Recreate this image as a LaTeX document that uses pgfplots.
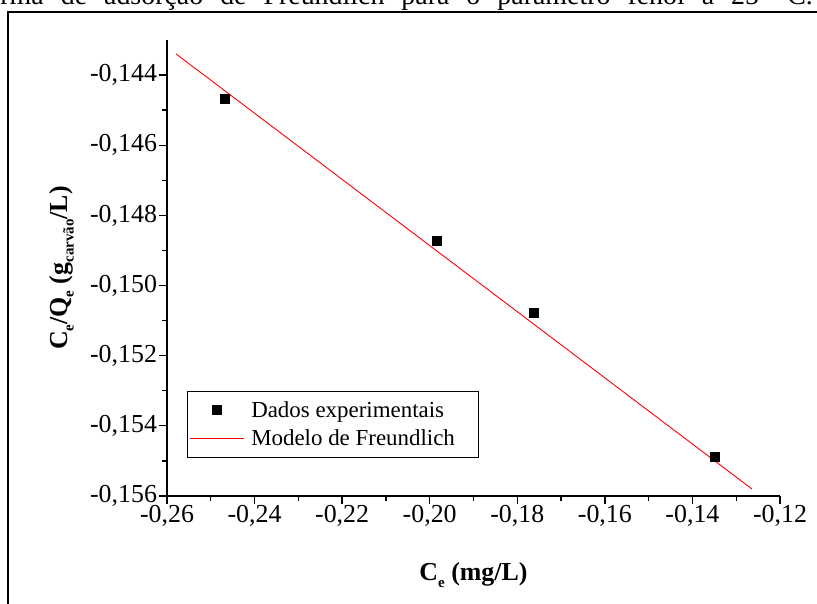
\documentclass[border=0pt]{standalone}
\usepackage{fontspec}
\setmainfont{Liberation Serif}
\usepackage{pgfplots}
\pgfplotsset{compat=1.18}
\newcommand\sub[1]{\raisebox{-0.55ex}{\fontsize{15}{15}\selectfont #1}}
\pgfplotsset{
  markleg/.style={legend image code/.code={\draw[mark repeat=2,mark phase=2,##1] plot coordinates {(0bp,0bp) (27bp,0bp) (54bp,0bp)};}},
  lineleg/.style={legend image code/.code={\draw[##1] (0bp,0bp) -- (54bp,0bp);}},
}
\begin{document}
\begin{tikzpicture}
\path[use as bounding box] (0bp,0bp) rectangle (817bp,604bp);
\node[anchor=base east, inner sep=0pt, font=\fontsize{28}{30}\selectfont] at (813bp,599bp)
  {\spaceskip=17bp plus 2bp Figura 4.5 -- Isoterma de adsorção de Freundlich para o parâmetro fenol a 25 °C.};
\draw[line width=1.4bp] (8bp,0bp) -- (8bp,592bp) -- (817bp,592bp);
\begin{axis}[
  at={(167bp,108bp)}, anchor=south west,
  scale only axis, width=613bp, height=456bp,
  xmin=-0.26, xmax=-0.12, ymin=-0.156, ymax=-0.143,
  axis lines*=left,
  axis line style={line width=1.3bp},
  tick align=outside,
  major tick length=8bp, minor tick length=4.5bp,
  every tick/.style={black, line width=1.3bp},
  xtick={-0.26,-0.24,-0.22,-0.20,-0.18,-0.16,-0.14,-0.12},
  xticklabels={{-0,26},{-0,24},{-0,22},{-0,20},{-0,18},{-0,16},{-0,14},{-0,12}},
  ytick={-0.156,-0.154,-0.152,-0.150,-0.148,-0.146,-0.144},
  yticklabels={{-0,156},{-0,154},{-0,152},{-0,150},{-0,148},{-0,146},{-0,144}},
  minor x tick num=1, minor y tick num=1,
  scaled x ticks=false, scaled y ticks=false,
  x tick label style={font=\fontsize{26}{26}\selectfont, yshift=2bp},
  y tick label style={font=\fontsize{26}{26}\selectfont, xshift=1.5bp},
  xlabel={C\sub{e} (mg/L)},
  ylabel={C\sub{e}/Q\sub{e} (g\sub{carvão}/L)},
  every axis label/.append style={font=\fontsize{26}{30}\selectfont\bfseries},
  xlabel style={at={(axis description cs:0.5,-0.173)}, anchor=center},
  ylabel style={at={(axis description cs:-0.172,0.5)}, anchor=center},
  legend style={at={(rel axis cs:0.0326,0.230)}, anchor=north west, draw=black, line width=0.8bp,
    font=\fontsize{23}{28}\selectfont, inner xsep=2bp, inner ysep=8bp, row sep=7bp,
    /tikz/every odd column/.append style={column sep=5bp}},
  legend cell align=left,
  clip=false,
]
\addplot[only marks, mark=square*, mark size=4.5bp, black, markleg]
  coordinates {(-0.2468,-0.14468) (-0.1984,-0.14873) (-0.1763,-0.15078) (-0.1349,-0.15488)};
\addlegendentry{Dados experimentais}
\addplot[red, line width=0.9bp, no marks, lineleg]
  coordinates {(-0.2579,-0.1434) (-0.1264,-0.1558)};
\addlegendentry{Modelo de Freundlich\rule{19bp}{0pt}}
\end{axis}
\end{tikzpicture}
\end{document}
